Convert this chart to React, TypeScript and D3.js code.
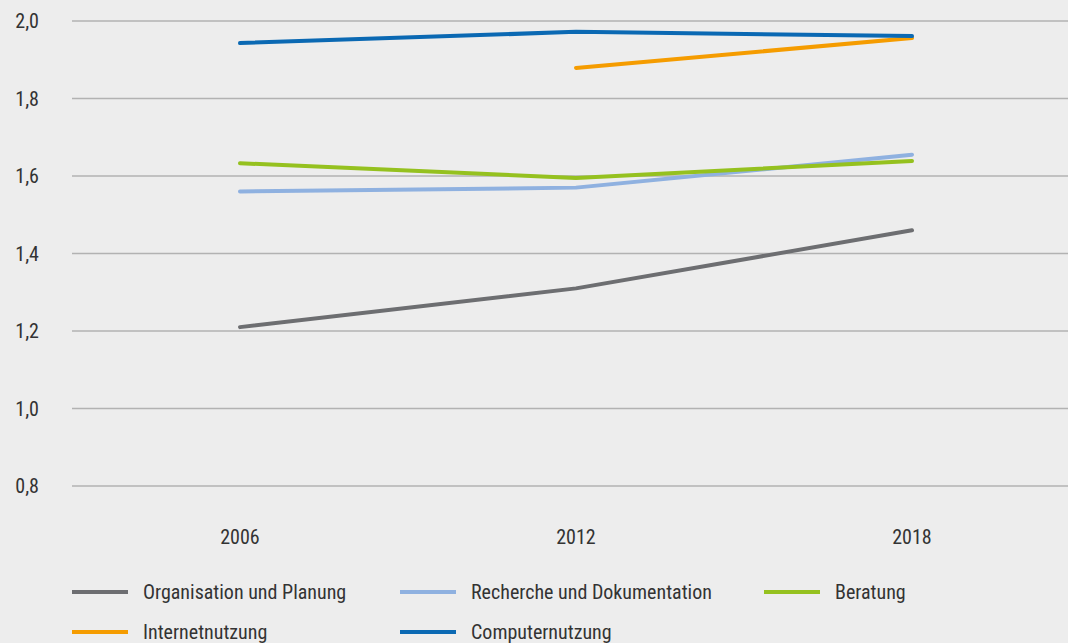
import React from "react";
import * as d3 from "d3";

const years = ["2006", "2012", "2018"];
const yTicks = [0.8, 1.0, 1.2, 1.4, 1.6, 1.8, 2.0];

const organisation = [1.21, 1.31, 1.46];
const recherche = [1.56, 1.57, 1.655];
const beratung = [1.633, 1.595, 1.639];
const internet = [null, 1.879, 1.956];
const computer = [1.943, 1.972, 1.961];

const seriesNames = [
  "Organisation und Planung",
  "Recherche und Dokumentation",
  "Beratung",
  "Internetnutzung",
  "Computernutzung",
];
const seriesColors = ["#6d6e71", "#8fb1e0", "#95c11f", "#f59c00", "#0b69b3"];
const seriesValues = [organisation, recherche, beratung, internet, computer];

const W = 1068;
const H = 643;
const FONT = "'Liberation Sans Narrow', 'Roboto Condensed', 'DejaVu Sans Condensed', sans-serif";

export default function App() {
  const x = d3.scaleBand<string>().domain(years).range([72, 1080]).padding(0);
  const y = d3.scaleLinear().domain([0.8, 2.0]).range([486, 21]);
  const line = d3
    .line<number | null>()
    .defined((d) => d != null)
    .x((_, i) => (x(years[i]) as number) + x.bandwidth() / 2)
    .y((d) => y(d as number));

  const legendPos = [
    { x: 72, y: 592 },
    { x: 400, y: 592 },
    { x: 764, y: 592 },
    { x: 72, y: 632 },
    { x: 400, y: 632 },
  ];

  return (
    <svg
      width={W}
      height={H}
      style={{ position: "absolute", left: 0, top: 0, background: "#ededed" }}
      fontFamily={FONT}
    >
      <rect x={0} y={0} width={W} height={H} fill="#ededed" />
      {yTicks.map((t) => (
        <g key={t}>
          <line x1={72} x2={W} y1={y(t)} y2={y(t)} stroke="#b2b2b2" strokeWidth={1.5} />
          <text x={39} y={y(t)} dy="0.35em" textAnchor="end" fontSize={20} fill="#333">
            {d3.format(".1f")(t).replace(".", ",")}
          </text>
        </g>
      ))}
      {years.map((yr) => (
        <text
          key={yr}
          x={(x(yr) as number) + x.bandwidth() / 2}
          y={537}
          dy="0.35em"
          textAnchor="middle"
          fontSize={20}
          fill="#333"
        >
          {yr}
        </text>
      ))}
      {seriesValues.map((vals, i) => (
        <path
          key={seriesNames[i]}
          d={line(vals) || ""}
          fill="none"
          stroke={seriesColors[i]}
          strokeWidth={4}
          strokeLinecap="round"
          strokeLinejoin="round"
        />
      ))}
      {seriesNames.map((name, i) => (
        <g key={name} transform={`translate(${legendPos[i].x},${legendPos[i].y})`}>
          <line x1={0} x2={56} y1={0} y2={0} stroke={seriesColors[i]} strokeWidth={4} />
          <text x={71} y={0} dy="0.35em" fontSize={20} fill="#333">
            {name}
          </text>
        </g>
      ))}
    </svg>
  );
}
